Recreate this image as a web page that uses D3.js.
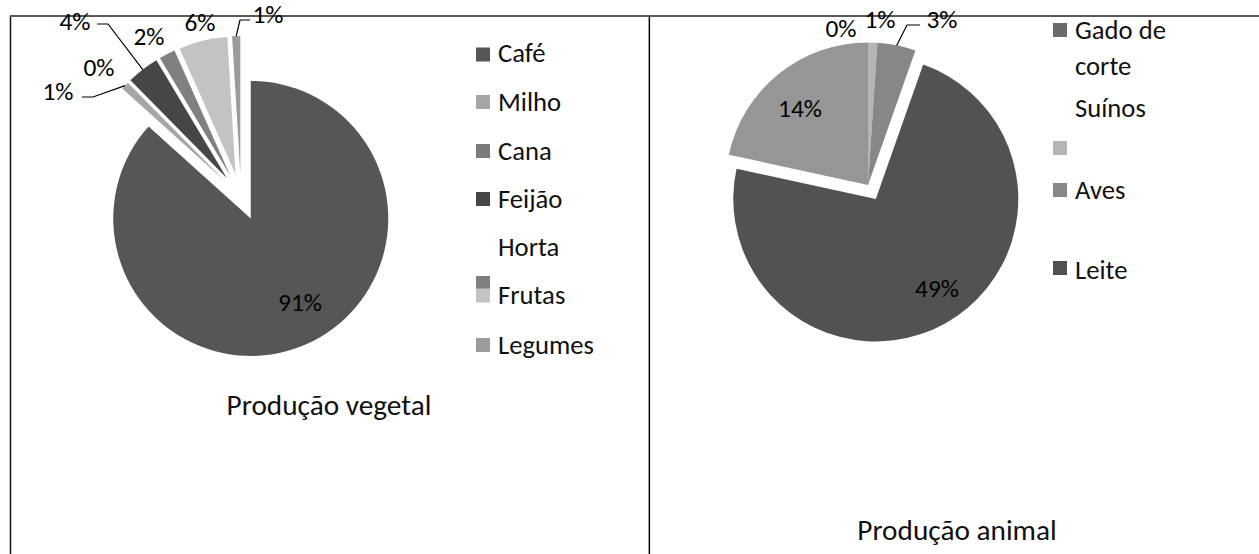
<!DOCTYPE html>
<html>
<head>
<meta charset="utf-8">
<script src="https://cdn.jsdelivr.net/npm/d3@7"></script>
<style>
  html, body { margin: 0; padding: 0; background: #ffffff; }
  svg { display: block; }
</style>
</head>
<body>
<svg id="chart" width="1259" height="554"></svg>
<script>
// ---------- DATA ----------
const vegCategories = ["Café", "Milho", "Cana", "Feijão", "Horta", "Frutas", "Legumes"];
const vegValues     = [91, 1, 0, 4, 2, 6, 1];
const vegTitle      = "Produção vegetal";

const aniCategories = ["Gado de corte", "Suínos", "Aves", "Leite", "Outros"];
const aniValues     = [0, 0.7, 2.9, 48.7, 14.4];
const aniTitle      = "Produção animal";

// ---------- STYLES ----------
const vegColors = ["#565656", "#a6a6a6", "#7b7b7b", "#464646", "#808080", "#c3c3c3", "#9b9b9b"];
const aniColors = ["#6b6b6b", "#b5b5b5", "#878787", "#525252", "#969696"];
const FONT = "Carlito, Calibri, Lato, 'Open Sans', sans-serif";
const TXT = "#111";

const svg = d3.select("#chart");

function fit(text, target) {
  const t = svg.append("text").attr("font-family", FONT).attr("font-size", 100).text(text);
  const w = t.node().getComputedTextLength();
  t.remove();
  return 100 * target / w;
}
const legendSize = fit("Legumes", 96);
const labelSize  = (fit("91%", 44) + fit("4%", 31)) / 2;
const titleSize  = fit("Produção vegetal", 205);

// ---------- FRAMES ----------
svg.append("line").attr("x1", 10.5).attr("x2", 10.5).attr("y1", 16).attr("y2", 554)
  .attr("stroke", "#111").attr("stroke-width", 1.5);
svg.append("line").attr("x1", 648.5).attr("x2", 648.5).attr("y1", 17).attr("y2", 554)
  .attr("stroke", "#b0b0b0").attr("stroke-width", 1);
svg.append("line").attr("x1", 649.5).attr("x2", 649.5).attr("y1", 16).attr("y2", 554)
  .attr("stroke", "#000").attr("stroke-width", 1.2);
svg.append("line").attr("x1", 10).attr("x2", 1259).attr("y1", 16).attr("y2", 16)
  .attr("stroke", "#595959").attr("stroke-width", 2.2);

// ---------- PIE HELPER ----------
function drawPie(cfg) {
  const pie = d3.pie().sort(null).value(d => d.value).startAngle(0).endAngle(2 * Math.PI);
  const data = cfg.categories.map((c, i) => ({ name: c, value: cfg.values[i], i }));
  const arcs = pie(data);
  const arc = d3.arc().innerRadius(0).outerRadius(cfg.r);
  const g = svg.append("g").attr("transform", `translate(${cfg.cx},${cfg.cy})`);

  const off = a => {
    const d = cfg.explode[a.index] || 0;
    const m = (a.startAngle + a.endAngle) / 2;
    return [Math.sin(m) * d, -Math.cos(m) * d];
  };

  g.selectAll("path.slice").data(arcs).enter().append("path")
    .attr("class", "slice")
    .attr("transform", a => `translate(${off(a)})`)
    .attr("d", arc)
    .attr("fill", a => cfg.colors[a.index]);

  // labels
  arcs.forEach(a => {
    const L = cfg.labels[a.index];
    if (!L) return;
    const txt = d3.format(".0f")(a.data.value) + "%";
    if (L.leader) {
      const o = off(a);
      const m = (a.startAngle + a.endAngle) / 2;
      const ex = cfg.cx + o[0] + Math.sin(m) * cfg.r;
      const ey = cfg.cy + o[1] - Math.cos(m) * cfg.r;
      const pts = [[L.leader[0], L.leader[1]], [L.leader[2], L.leader[1]], [ex, ey]];
      svg.append("path").attr("d", d3.line()(pts))
        .attr("fill", "none").attr("stroke", "#000").attr("stroke-width", 1.2);
    }
    svg.append("text")
      .attr("x", L.x).attr("y", L.y).attr("dy", "0.35em")
      .attr("text-anchor", "middle")
      .attr("font-family", FONT).attr("font-size", labelSize)
      .attr("fill", "#000")
      .text(txt);
  });

  // legend
  cfg.legend.forEach(e => {
    const i = cfg.categories.indexOf(e.name);
    if (e.my !== null) {
      svg.append("rect").attr("x", cfg.lx).attr("y", e.my - 7).attr("width", 14).attr("height", 14)
        .attr("fill", cfg.colors[i]);
    }
    const t = svg.append("text").attr("x", cfg.lx + 22).attr("y", e.ty)
      .attr("font-family", FONT).attr("font-size", legendSize).attr("fill", TXT);
    e.lines.forEach((ln, k) => {
      t.append("tspan").attr("x", cfg.lx + 22).attr("dy", k === 0 ? "0.35em" : "1.33em").text(ln);
    });
  });

  svg.append("text").attr("x", cfg.tx).attr("y", cfg.ty).attr("dy", "0.35em")
    .attr("text-anchor", "middle")
    .attr("font-family", FONT).attr("font-size", titleSize).attr("fill", TXT)
    .text(cfg.title);
}

// ---------- LEFT: Produção vegetal ----------
drawPie({
  categories: vegCategories, values: vegValues, colors: vegColors, title: vegTitle,
  cx: 241, cy: 196.5, r: 137.5,
  explode: [24, 23, 23, 23, 23, 23, 23],
  labels: [
    { x: 300, y: 302 },
    { x: 58,  y: 91, leader: [82, 97, 93] },
    { x: 99,  y: 67 },
    { x: 75,  y: 21, leader: [97, 24, 108] },
    { x: 149, y: 36 },
    { x: 200, y: 22 },
    { x: 268, y: 14, leader: [250, 20, 240] }
  ],
  lx: 476,
  legend: [
    { name: "Café",    ty: 53,  my: 54.5, lines: ["Café"] },
    { name: "Milho",   ty: 102, my: 102,  lines: ["Milho"] },
    { name: "Cana",    ty: 151, my: 151,  lines: ["Cana"] },
    { name: "Feijão",  ty: 199, my: 199,  lines: ["Feijão"] },
    { name: "Horta",   ty: 247, my: 283,  lines: ["Horta"] },
    { name: "Frutas",  ty: 295, my: 295.5, lines: ["Frutas"] },
    { name: "Legumes", ty: 345, my: 345,  lines: ["Legumes"] }
  ],
  tx: 329, ty: 405
});

// ---------- RIGHT: Produção animal ----------
drawPie({
  categories: aniCategories, values: aniValues, colors: aniColors, title: aniTitle,
  cx: 868, cy: 185, r: 142.5,
  explode: [0, 0, 0, 16, 0],
  labels: [
    { x: 841, y: 28 },
    { x: 880, y: 19 },
    { x: 942, y: 19, leader: [920, 25, 907] },
    { x: 937, y: 288 },
    { x: 800, y: 108 }
  ],
  lx: 1053,
  legend: [
    { name: "Gado de corte", ty: 30,  my: 30,  lines: ["Gado de", "corte"] },
    { name: "Suínos",        ty: 108, my: 148, lines: ["Suínos"] },
    { name: "Aves",          ty: 190, my: 190, lines: ["Aves"] },
    { name: "Leite",         ty: 270, my: 268, lines: ["Leite"] }
  ],
  tx: 957, ty: 530
});
</script>
</body>
</html>
